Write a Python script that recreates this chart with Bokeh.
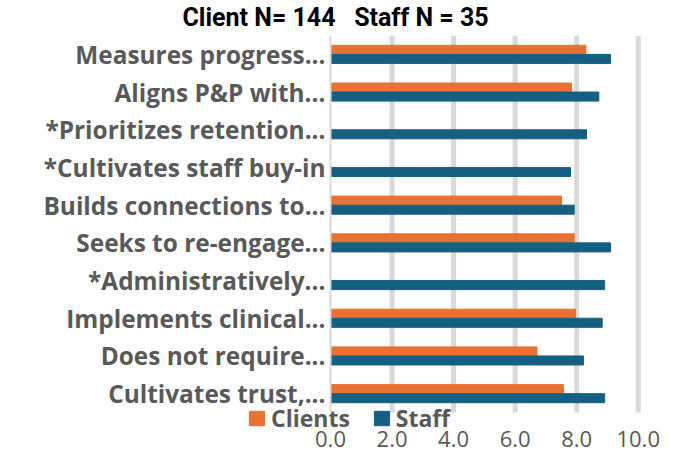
from bokeh.plotting import figure
from bokeh.models import (ColumnDataSource, Range1d, FixedTicker, PrintfTickFormatter,
                          Legend, LegendItem)
from bokeh.transform import dodge
from bokeh.embed import file_html
from bokeh.resources import INLINE
import numpy as np

categories = ["Measures progress...", "Aligns P&P with...", "*Prioritizes retention...",
              "*Cultivates staff buy-in", "Builds connections to...", "Seeks to re-engage...",
              "*Administratively...", "Implements clinical...", "Does not require...",
              "Cultivates trust,..."]
clients = [8.3, 7.83, None, None, 7.51, 7.92, None, 7.96, 6.71, 7.57]
staff = [9.1, 8.72, 8.32, 7.8, 7.92, 9.1, 8.91, 8.83, 8.22, 8.91]
x_ticks = [0, 2, 4, 6, 8, 10]
series_names = ["Clients", "Staff"]
title_text = "Client N= 144\u00a0\u00a0\u00a0Staff N = 35"

ORANGE = "#E97132"
BLUE = "#156082"
GREY = "#595959"
GRID = "#D9D9D9"

# layout (pixels)
W, H = 684, 453
TOP = 35                 # top of plotting rows
ZERO_PX, TEN_PX = 330, 637.7
ROW_PX = 37.7

n = len(categories)
pos = np.arange(n)[::-1].astype(float)          # first category at the top
sx = (TEN_PX - ZERO_PX) / 10.0
x_range = Range1d(-ZERO_PX / sx, (W - ZERO_PX) / sx)
y_top = n - 0.5
y_range = Range1d(y_top - (H - TOP) / ROW_PX, y_top)

src = ColumnDataSource(dict(pos=pos,
                            clients=np.array([np.nan if v is None else v for v in clients], dtype=float),
                            staff=np.array(staff, dtype=float)))

p = figure(width=W, height=H, output_backend="svg", toolbar_location=None,
           x_range=x_range, y_range=y_range,
           min_border_left=0, min_border_right=0, min_border_top=TOP, min_border_bottom=0,
           title=title_text)
p.outline_line_color = None
p.grid.grid_line_color = None

# vertical gridlines across the category rows
gx = x_ticks[1:]
p.segment(x0=gx, x1=gx, y0=[-0.5] * len(gx), y1=[y_top] * len(gx),
          line_color=GRID, line_width=5)

r1 = p.hbar(y=dodge("pos", 0.12), right="clients", left=0, height=0.24,
            source=src, color=ORANGE)
r2 = p.hbar(y=dodge("pos", -0.12), right="staff", left=0, height=0.24,
            source=src, color=BLUE)

# title
p.title.text_font = "Roboto"
p.title.text_font_size = "25px"
p.title.text_font_style = "bold"
p.title.text_color = "black"
p.title.align = "left"
p.title.offset = 182
p.title.standoff = 4
p.title.vertical_align = "top"

# y (category) axis drawn at x = 0
ya = p.yaxis[0]
ya.fixed_location = 0
ya.bounds = (-0.5, y_top)
ya.ticker = FixedTicker(ticks=list(pos))
ya.major_label_overrides = {float(k): c for k, c in zip(pos, categories)}
ya.major_label_text_font = "Open Sans"
ya.major_label_text_font_style = "bold"
ya.major_label_text_font_size = "24.4px"
ya.major_label_text_color = GREY
ya.major_tick_line_color = None
ya.major_tick_out = 0
ya.major_tick_in = 0
ya.minor_tick_line_color = None
ya.axis_line_color = GRID
ya.axis_line_width = 2
ya.major_label_standoff = 5

# x axis under the rows
xa = p.xaxis[0]
xa.fixed_location = -0.5
xa.bounds = (0, 10)
xa.ticker = FixedTicker(ticks=x_ticks)
xa.formatter = PrintfTickFormatter(format="%.1f")
xa.major_label_text_font = "Open Sans"
xa.major_label_text_font_size = "22px"
xa.major_label_text_color = GREY
xa.major_tick_line_color = None
xa.major_tick_out = 0
xa.major_tick_in = 0
xa.minor_tick_line_color = None
xa.axis_line_color = None
xa.major_label_standoff = 18

legend = Legend(items=[LegendItem(label=series_names[0], renderers=[r1]),
                       LegendItem(label=series_names[1], renderers=[r2])],
                orientation="horizontal", location=(247, 19),
                label_text_font="Open Sans", label_text_font_style="bold",
                label_text_font_size="23px", label_text_color=GREY,
                glyph_width=19, glyph_height=18, padding=0, margin=0, spacing=22,
                label_standoff=5, border_line_color=None, background_fill_alpha=0)
p.add_layout(legend, "center")

open("out.html", "w").write(file_html(p, INLINE))
